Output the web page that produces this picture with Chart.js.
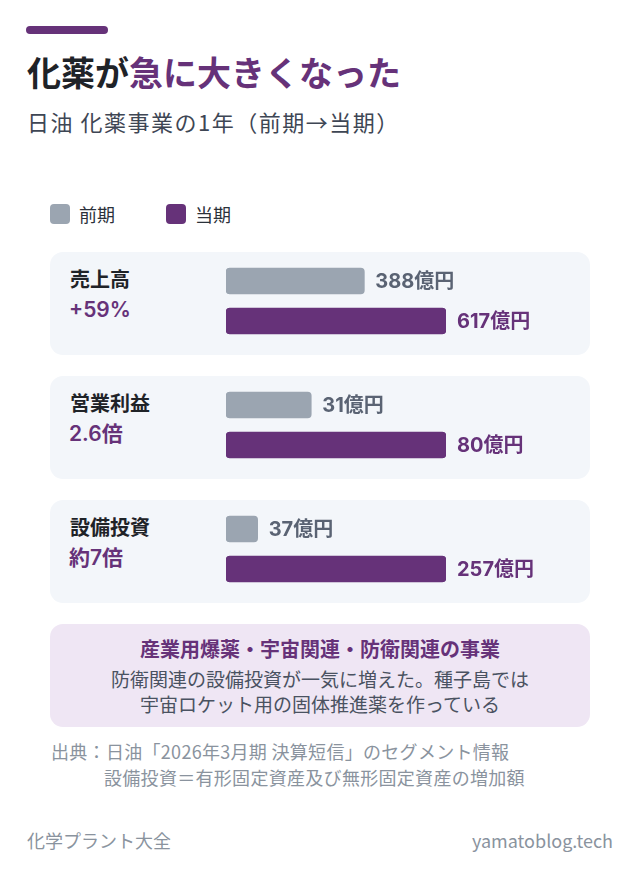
<!DOCTYPE html>
<html lang="ja">
<head>
<meta charset="utf-8">
<script src="https://cdn.jsdelivr.net/npm/chart.js@4"></script>
<style>
  html, body { margin: 0; padding: 0; background: #fff; }
  body { width: 640px; height: 880px; position: relative; font-family: "Noto Sans CJK JP", sans-serif; overflow: hidden; }
  .abs { position: absolute; white-space: nowrap; }
  #topbar { left: 26px; top: 26px; width: 82px; height: 8px; border-radius: 4px; background: #663279; }
  #title { left: 27px; top: 50px; font-size: 34px; font-weight: 700; color: #1f2328; line-height: 44px; }
  #title span { color: #663279; }
  #subtitle { left: 27px; top: 106px; font-size: 22px; letter-spacing: 1.5px; color: #3e4654; line-height: 30px; }
  .leg { top: 204px; font-size: 18px; color: #2b313a; line-height: 20px; }
  .leg i { display: inline-block; width: 20px; height: 20px; border-radius: 4px; vertical-align: top; margin-right: 9px; }
  .card { position: absolute; left: 50px; width: 540px; height: 103px; border-radius: 13px; background: #f3f6fa; }
  .card .name { position: absolute; left: 20px; top: 14px; font-size: 20px; font-weight: 700; color: #1f2328; line-height: 26px; }
  .card .chg { position: absolute; left: 19px; top: 45px; font-family: Inter, "Noto Sans CJK JP", sans-serif; font-size: 21px; font-weight: 600; color: #663279; line-height: 26px; }
  .card canvas { position: absolute; left: 176px; top: 9px; }
  #note { left: 50px; top: 624px; width: 540px; height: 103px; border-radius: 13px; background: #efe6f4; text-align: center; }
  #note .h { position: absolute; left: 0; right: 0; top: 12px; font-size: 20px; font-weight: 700; color: #663279; line-height: 26px; }
  #note .b { position: absolute; left: 0; right: 0; top: 42px; font-size: 19px; color: #4a5261; line-height: 25px; }
  #src { left: 51px; top: 738px; font-size: 18px; letter-spacing: 0.3px; color: #8a939e; line-height: 26px; }
  #src div + div { padding-left: 53px; }
  .foot { top: 827px; font-size: 18px; color: #8a939e; line-height: 26px; }
</style>
</head>
<body>
<div id="topbar" class="abs"></div>
<div id="title" class="abs">化薬が<span>急に大きくなった</span></div>
<div id="subtitle" class="abs">日油 化薬事業の1年（前期→当期）</div>
<div id="legend"></div>
<div id="cards"></div>
<div id="note" class="abs">
  <div class="h">産業用爆薬・宇宙関連・防衛関連の事業</div>
  <div class="b">防衛関連の設備投資が一気に増えた。種子島では<br>宇宙ロケット用の固体推進薬を作っている</div>
</div>
<div id="src" class="abs">
  <div>出典：日油「2026年3月期 決算短信」のセグメント情報</div>
  <div>設備投資＝有形固定資産及び無形固定資産の増加額</div>
</div>
<div class="abs foot" style="left:27px">化学プラント大全</div>
<div class="abs foot" style="right:27px">yamatoblog.tech</div>

<script>
// データ（億円）
const categories = ['売上高', '営業利益', '設備投資'];
const changeLabels = ['+59%', '2.6倍', '約7倍'];
const seriesNames = ['前期', '当期'];
const prevValues = [388, 31, 37];
const currValues = [617, 80, 257];
const unit = '億円';

const colors = ['#9ba5b1', '#663279'];
const labelColors = ['#5a6373', '#663279'];

// 凡例
const legend = document.getElementById('legend');
const legendX = [50, 166];
seriesNames.forEach((name, i) => {
  const d = document.createElement('div');
  d.className = 'abs leg';
  d.style.left = legendX[i] + 'px';
  d.innerHTML = `<i style="background:${colors[i]}"></i>${name}`;
  legend.appendChild(d);
});

// 棒の右に値を書く
const valueLabels = {
  id: 'valueLabels',
  afterDatasetsDraw(chart) {
    const ctx = chart.ctx;
    const meta = chart.getDatasetMeta(0);
    ctx.save();
    ctx.font = '700 20px Inter, "Noto Sans CJK JP", sans-serif';
    ctx.textBaseline = 'middle';
    meta.data.forEach((bar, j) => {
      ctx.fillStyle = labelColors[j];
      ctx.fillText(chart.data.datasets[0].data[j] + unit, bar.x + 11, bar.y + 1);
    });
    ctx.restore();
  }
};

const cards = document.getElementById('cards');
categories.forEach((cat, i) => {
  const card = document.createElement('div');
  card.className = 'card';
  card.style.top = (252 + i * 124) + 'px';
  card.innerHTML = `<div class="name">${cat}</div><div class="chg">${changeLabels[i]}</div>`;
  const canvas = document.createElement('canvas');
  canvas.style.width = '340px';
  canvas.style.height = '80px';
  canvas.width = 340;
  canvas.height = 80;
  card.appendChild(canvas);
  cards.appendChild(card);

  new Chart(canvas.getContext('2d'), {
    type: 'bar',
    data: {
      labels: seriesNames,
      datasets: [{
        data: [prevValues[i], currValues[i]],
        backgroundColor: colors,
        barThickness: 26,
        borderRadius: 4,
        borderSkipped: false
      }]
    },
    options: {
      indexAxis: 'y',
      responsive: false,
      animation: false,
      layout: { padding: { left: 0, right: 120, top: 0, bottom: 0 } },
      plugins: { legend: { display: false }, tooltip: { enabled: false } },
      scales: {
        x: { display: false, min: 0, max: Math.max(prevValues[i], currValues[i]) },
        y: { display: false }
      }
    },
    plugins: [valueLabels]
  });
});
</script>
</body>
</html>
